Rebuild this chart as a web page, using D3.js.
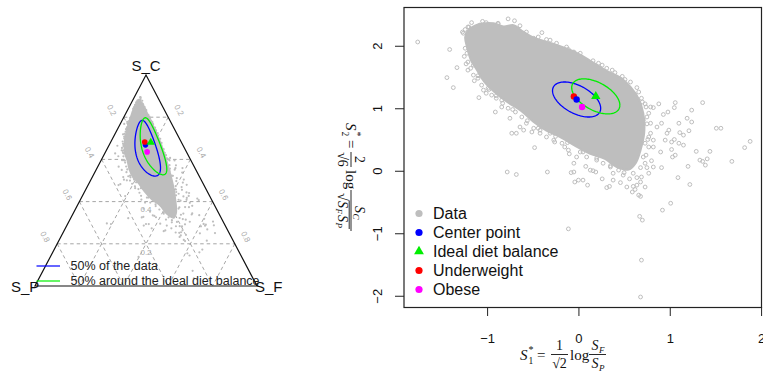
<!DOCTYPE html>
<html>
<head>
<meta charset="utf-8">
<script src="https://cdn.jsdelivr.net/npm/d3@7"></script>
<style>
  body { margin: 0; background: #fff; }
  svg { display: block; }
</style>
</head>
<body>
<svg id="chart" width="763" height="374"></svg>
<script>
// Observations in ilr coordinates:
//   z1 = 1/sqrt(2) * log(S_F / S_P),  z2 = 2/sqrt(6) * log(S_C / sqrt(S_F * S_P))
// Dense core of the observation cloud (outline of the fully covered region)
const cloudCore = [
  [-1.21, 2.24], [-1.10, 2.34], [-0.93, 2.36], [-0.82, 2.31], [-0.71, 2.33], [-0.62, 2.24],
  [-0.49, 2.13], [-0.27, 2.03], [-0.05, 1.91], [0.13, 1.76], [0.31, 1.60], [0.46, 1.49],
  [0.57, 1.34], [0.66, 1.15], [0.71, 0.92], [0.72, 0.60], [0.68, 0.33], [0.63, 0.13],
  [0.55, 0.02], [0.42, 0.06], [0.29, 0.19], [0.13, 0.27], [-0.04, 0.40], [-0.20, 0.54],
  [-0.35, 0.64], [-0.49, 0.78], [-0.63, 0.96], [-0.78, 1.10], [-0.92, 1.26], [-1.03, 1.42],
  [-1.11, 1.61], [-1.18, 1.78], [-1.22, 1.98], [-1.24, 2.14]
];

// Individual observations around and outside the core
const observations = [
  [-1.76, 2.06], [-1.41, 1.94], [-1.44, 1.49], [-1.37, 1.33], [-1.33, 1.65], [-1.09, 1.17],
  [-0.91, 0.94], [-1.14, 1.44], [-1.25, 1.83], [-1.23, 1.71], [-1.21, 1.61], [-1.15, 1.69],
  [-1.17, 2.08], [-1.21, 2.20], [-1.17, 2.37], [-1.04, 1.29], [-1.01, 1.24], [-0.84, 1.13],
  [-0.84, 1.02], [-0.75, 0.84], [-0.73, 0.60], [-0.68, 0.60], [-0.64, 0.70], [-0.60, 0.65],
  [-0.48, 0.37], [-0.51, 0.62], [-0.42, 0.60], [-0.31, 0.60], [-0.27, 0.49], [-0.15, 0.38],
  [-0.10, 0.27], [-0.05, 0.12], [-0.04, -0.18], [0.00, -0.15], [0.05, -0.15], [0.10, -0.23],
  [-0.08, -0.03], [-0.05, -0.02], [-0.78, -0.02], [-0.68, -0.06], [-0.34, -0.02], [-0.11, -0.93],
  [0.08, 0.07], [0.13, 0.01], [0.16, 0.00], [0.19, -0.02], [0.26, -0.13], [0.31, -0.27],
  [0.34, -0.25], [0.38, -0.04], [0.46, -0.19], [0.56, -0.13], [0.64, -0.11], [0.69, -0.10],
  [0.60, -0.25], [0.62, -0.30], [0.66, -0.39], [0.68, -0.41], [0.75, 0.05], [0.80, 0.16],
  [0.91, 0.05], [1.02, 0.34], [1.03, 0.22], [1.06, 0.25], [1.09, -0.11], [1.20, 0.07],
  [1.22, -0.22], [1.01, -0.52], [0.92, -0.63], [0.67, -0.73], [0.70, -0.79], [0.69, -1.43],
  [0.68, -2.02],
  [0.82, 1.01], [0.88, 1.07], [0.93, 0.90], [0.98, 0.94], [1.05, 1.01], [1.06, 1.09],
  [1.24, 0.97], [1.36, 1.09], [1.19, 0.84], [1.24, 0.78], [1.21, 0.64], [1.10, 0.76],
  [1.11, 0.61], [1.05, 0.50], [1.10, 0.44], [1.15, 0.41], [0.91, 0.76], [0.99, 0.65],
  [1.02, 0.46], [1.51, 0.68], [1.56, 0.68], [1.88, 0.47], [1.82, 0.37], [1.68, 0.15],
  [1.29, 0.31], [1.33, 0.17], [1.36, 0.15], [1.41, 0.19], [1.44, 0.31], [1.39, 0.09],
  [0.86, 0.70], [0.79, 0.60], [0.82, 0.49], [0.77, 0.38], [0.71, 0.81], [0.77, 0.92],
  [0.82, 0.38], [0.90, 0.30], [0.95, 0.49], [0.97, 0.60], [1.15, 0.57],
  [-0.77, 2.43], [-0.70, 2.40], [-0.40, 2.21], [-0.20, 1.93], [-0.11, 1.94], [-0.05, 1.90],
  [0.09, 1.74], [0.22, 1.72], [0.31, 1.64], [0.40, 1.57], [0.48, 1.51], [0.57, 1.42],
  [0.64, 1.33], [0.62, 1.21], [0.73, 1.07], [0.79, 1.02], [-0.49, 2.12], [-0.31, 2.09],
  [-1.27, 2.22], [-1.20, 2.30], [-1.05, 2.39], [-0.88, 2.36], [-1.18, 1.90], [-1.10, 1.52],
  [-0.98, 1.30], [-0.90, 1.20], [-0.72, 0.98], [-0.56, 0.80], [-0.44, 0.68], [-0.25, 0.55],
  [-0.12, 0.45], [0.05, 0.30], [0.20, 0.20], [0.35, 0.08], [0.50, -0.03], [0.68, 0.05],
  [0.74, 0.25], [0.76, 0.50], [0.75, 0.75], [0.70, 1.10],
  [-1.24, 2.26], [-1.26, 2.20], [-1.21, 2.30], [-1.08, 2.33], [-1.01, 2.37], [-0.88, 2.35],
  [-0.64, 2.32], [-0.57, 2.22], [-0.44, 2.14], [-0.35, 2.10], [-0.24, 2.04], [-0.13, 1.98],
  [0.02, 1.88], [0.16, 1.76], [0.26, 1.69], [0.37, 1.61], [0.51, 1.46], [0.66, 1.26],
  [0.69, 1.16], [0.74, 1.02], [0.75, 0.86], [0.79, 0.76], [0.77, 0.54], [0.73, 0.44],
  [0.71, 0.22], [0.73, 0.12], [0.60, -0.04], [0.49, -0.07], [0.44, 0.01], [0.35, 0.06],
  [0.27, 0.12], [0.20, 0.17], [0.09, 0.22], [0.02, 0.30], [-0.02, 0.22], [-0.11, 0.33],
  [-0.18, 0.44], [-0.26, 0.46], [-0.35, 0.54], [-0.42, 0.65], [-0.49, 0.68], [-0.57, 0.76],
  [-0.62, 0.86], [-0.69, 0.94], [-0.77, 1.00], [-0.83, 1.08], [-0.90, 1.16], [-0.95, 1.21],
  [-0.99, 1.32], [-1.06, 1.37], [-1.10, 1.48], [-1.15, 1.53], [-1.18, 1.64], [-1.21, 1.74],
  [-1.22, 1.88], [-1.24, 1.96], [0.38, -0.15], [0.53, -0.26], [0.59, -0.34], [0.64, -0.23],
  [0.77, -0.04], [0.82, 0.06], [0.68, -0.18], [0.73, -0.26]
];

// Reference points (ilr coordinates)
const centerPoint = [-0.02, 1.14];
const idealPoint = [0.19, 1.19];
const underweightPoint = [-0.05, 1.19];
const obesePoint = [0.04, 1.02];

// Spread of the data (ilr standard deviations and correlation)
const dataSd = [0.224, 0.238];
const dataRho = -0.5;
const scatterEllipseRadius = 1.177;   // sqrt of chi-square(2) median
const ternaryEllipseRadius = 2.08;

const xTicks = [-1, 0, 1, 2];
const yTicks = [-2, -1, 0, 1, 2];
const gridLevels = [0.2, 0.4, 0.6, 0.8];
const partNames = ["S_P", "S_F", "S_C"];
const legendLabels = ["Data", "Center point", "Ideal diet balance", "Underweight", "Obese"];
const legendColors = ["#bebebe", "#0000ff", "#00ee00", "#ff0000", "#ff00ff"];
const ternaryLegendLabels = ["50% of the data", "50% around the ideal diet balance"];

const COL = { gray: "#bebebe", blue: "#0000ff", green: "#00ee00", red: "#ff0000", magenta: "#ff00ff" };
const SANS = "Liberation Sans, Arial, sans-serif";
const SERIF = "Liberation Serif, DejaVu Serif, serif";

const svg = d3.select("#chart");

// ---------- helpers ----------
function ellipsePoints(center, radius) {
  const [sx, sy] = dataSd;
  const l21 = dataRho * sy, l22 = sy * Math.sqrt(1 - dataRho * dataRho);
  return d3.range(0, 361, 3).map(deg => {
    const t = deg * Math.PI / 180, u = radius * Math.cos(t), v = radius * Math.sin(t);
    return [center[0] + sx * u, center[1] + l21 * u + l22 * v];
  });
}
// inverse ilr -> composition (P, F, C)
function toComposition([z1, z2]) {
  const r2 = Math.SQRT2, r6 = Math.sqrt(6);
  const e = [Math.exp(-z1 / r2 - z2 / r6), Math.exp(z1 / r2 - z2 / r6), Math.exp(2 * z2 / r6)];
  const s = e[0] + e[1] + e[2];
  return e.map(v => v / s);
}

// ================= Right panel: ilr scatter =================
const box = { left: 404, right: 761.5, top: 7, bottom: 307 };
const x = d3.scaleLinear().domain([-1.91, 2.01]).range([box.left, 762]);
const y = d3.scaleLinear().domain([-2.18, 2.62]).range([box.bottom, box.top]);

const right = svg.append("g");
right.append("defs").append("clipPath").attr("id", "plotClip")
  .append("rect").attr("x", box.left).attr("y", box.top)
  .attr("width", box.right - box.left).attr("height", box.bottom - box.top);
const plot = right.append("g").attr("clip-path", "url(#plotClip)");

plot.append("path")
  .attr("d", d3.line().x(d => x(d[0])).y(d => y(d[1])).curve(d3.curveCatmullRomClosed)(cloudCore))
  .attr("fill", COL.gray).attr("stroke", COL.gray).attr("stroke-width", 2);

plot.selectAll("circle.obs").data(observations).join("circle")
  .attr("class", "obs")
  .attr("cx", d => x(d[0])).attr("cy", d => y(d[1])).attr("r", 1.9)
  .attr("fill", "none").attr("stroke", COL.gray).attr("stroke-width", 1);

const eLine = d3.line().x(d => x(d[0])).y(d => y(d[1]));
plot.append("path").attr("d", eLine(ellipsePoints(centerPoint, scatterEllipseRadius)))
  .attr("fill", "none").attr("stroke", COL.blue).attr("stroke-width", 1.3);
plot.append("path").attr("d", eLine(ellipsePoints(idealPoint, scatterEllipseRadius)))
  .attr("fill", "none").attr("stroke", COL.green).attr("stroke-width", 1.3);

function dot(g, p, color, r, sx, sy) {
  g.append("circle").attr("cx", sx(p[0])).attr("cy", sy(p[1])).attr("r", r).attr("fill", color);
}
function tri(g, p, color, s, sx, sy) {
  g.append("path").attr("d", d3.symbol(d3.symbolTriangle, s)())
    .attr("transform", `translate(${sx(p[0])},${sy(p[1])})`).attr("fill", color);
}
tri(plot, idealPoint, COL.green, 38, x, y);
dot(plot, underweightPoint, COL.red, 3.2, x, y);
dot(plot, centerPoint, COL.blue, 3.2, x, y);
dot(plot, obesePoint, COL.magenta, 3.2, x, y);

// legend
const leg = right.append("g");
legendLabels.forEach((lab, i) => {
  const ly = 213.5 + i * 19;
  if (i === 2) {
    leg.append("path").attr("d", d3.symbol(d3.symbolTriangle, 42)())
      .attr("transform", `translate(419,${ly})`).attr("fill", legendColors[i]);
  } else {
    leg.append("circle").attr("cx", 419).attr("cy", ly).attr("r", 3.6).attr("fill", legendColors[i]);
  }
  leg.append("text").attr("x", 433).attr("y", ly + 5.6).text(lab)
    .attr("font-family", SANS).attr("font-size", 16).attr("fill", "#111");
});

// axes
const axX = right.append("g").attr("transform", `translate(0,${box.bottom})`)
  .call(d3.axisBottom(x).tickValues(xTicks).tickSize(9).tickSizeOuter(0)
    .tickFormat(d => d < 0 ? "\u2212" + Math.abs(d) : d));
axX.select(".domain").remove();
axX.selectAll("line").attr("stroke", "#222");
axX.selectAll("text").attr("font-family", SANS).attr("font-size", 13).attr("fill", "#111").attr("dy", null).attr("y", 36);

const axY = right.append("g").attr("transform", `translate(${box.left},0)`)
  .call(d3.axisLeft(y).tickValues(yTicks).tickSize(9).tickSizeOuter(0)
    .tickFormat(d => d < 0 ? "\u2212" + Math.abs(d) : d));
axY.select(".domain").remove();
axY.selectAll("line").attr("stroke", "#222");
axY.selectAll("text").attr("font-family", SANS).attr("font-size", 13).attr("fill", "#111")
  .attr("x", null).attr("dy", null).attr("text-anchor", "middle")
  .attr("transform", "translate(-22,0) rotate(-90)");

right.append("rect").attr("x", box.left).attr("y", box.top + 0.5)
  .attr("width", box.right - box.left).attr("height", box.bottom - box.top)
  .attr("fill", "none").attr("stroke", "#222").attr("stroke-width", 1.2);

// ---- axis titles (math) ----
function mt(g, str, xx, yy, size, italic, anchor) {
  return g.append("text").attr("x", xx).attr("y", yy).text(str)
    .attr("font-family", SERIF).attr("font-size", size)
    .attr("font-style", italic ? "italic" : "normal")
    .attr("text-anchor", anchor || "start").attr("fill", "#111");
}
function bar(g, x1, x2, yy) {
  g.append("line").attr("x1", x1).attr("x2", x2).attr("y1", yy).attr("y2", yy)
    .attr("stroke", "#111").attr("stroke-width", 0.9);
}
// x title: S1* = 1/sqrt2 log(S_F/S_P)
const xt = right.append("g");
mt(xt, "S", 520, 360, 15, true);
mt(xt, "1", 528.5, 363.5, 9.5, false);
mt(xt, "*", 528.5, 353, 10, false);
mt(xt, "=", 537, 360, 15, false);
mt(xt, "1", 559.5, 350, 14, false, "middle");
bar(xt, 551, 568, 354.5);
mt(xt, "\u221A2", 559.5, 368, 14, false, "middle");
mt(xt, "log", 570, 360, 15, false);
mt(xt, "S", 591.5, 350, 14, true); mt(xt, "F", 599, 352.5, 9, true);
bar(xt, 589, 606, 354.5);
mt(xt, "S", 591.5, 368, 14, true); mt(xt, "P", 599, 370.5, 9, true);

// y title: S2* = 2/sqrt6 log(S_C / sqrt(S_F S_P)), reading downward
const yt = right.append("g").attr("transform", "translate(351,123) rotate(90)");
mt(yt, "S", 0, 5.5, 15, true);
mt(yt, "2", 8.5, 9, 9.5, false);
mt(yt, "*", 8.5, -2.5, 10, false);
mt(yt, "=", 17, 5.5, 15, false);
mt(yt, "2", 36.5, -4, 14, false, "middle");
bar(yt, 29, 44, 0);
mt(yt, "\u221A6", 36.5, 13, 14, false, "middle");
mt(yt, "log", 47, 5.5, 15, false);
mt(yt, "S", 83, -4, 14, true); mt(yt, "C", 90.5, -1.5, 9, true);
bar(yt, 67, 108, 0);
mt(yt, "\u221A", 70, 13, 14, false);
mt(yt, "S", 78, 13, 14, true); mt(yt, "F", 85.5, 15.5, 9, true);
mt(yt, "S", 92, 13, 14, true); mt(yt, "P", 99.5, 15.5, 9, true);
bar(yt, 77.5, 106, 1.8);

// ================= Left panel: ternary diagram =================
const V = { P: [35, 286], F: [257, 286], C: [146, 75] };
function tpos(comp) {   // comp = [P, F, C]
  return [comp[0] * V.P[0] + comp[1] * V.F[0] + comp[2] * V.C[0],
          comp[0] * V.P[1] + comp[1] * V.F[1] + comp[2] * V.C[1]];
}
const tx = z => tpos(toComposition(z))[0];
const ty = z => tpos(toComposition(z))[1];
const left = svg.append("g");

// dashed grid
const grid = left.append("g").attr("stroke", "#9c9c9c").attr("stroke-width", 0.9)
  .attr("stroke-dasharray", "3.5,3").attr("fill", "none");
gridLevels.forEach(v => {
  const segs = [
    [[1 - v, 0, v], [0, 1 - v, v]],   // constant S_C
    [[v, 0, 1 - v], [v, 1 - v, 0]],   // constant S_P
    [[0, v, 1 - v], [1 - v, v, 0]]    // constant S_F
  ];
  segs.forEach(([a, b]) => {
    const pa = tpos(a), pb = tpos(b);
    grid.append("line").attr("x1", pa[0]).attr("y1", pa[1]).attr("x2", pb[0]).attr("y2", pb[1]);
  });
});

// grid labels
const glab = left.append("g").attr("font-family", SANS).attr("font-size", 8).attr("fill", "#a8a8a8");
gridLevels.forEach(v => {
  const pl = tpos([v, 0, 1 - v]);
  glab.append("text").attr("text-anchor", "middle")
    .attr("transform", `translate(${pl[0] - 12},${pl[1] - 7}) rotate(62)`).attr("dy", "0.35em").text(v);
  const pr = tpos([0, v, 1 - v]);
  glab.append("text").attr("text-anchor", "middle")
    .attr("transform", `translate(${pr[0] + 11},${pr[1] - 7}) rotate(62)`).attr("dy", "0.35em").text(v);
  const pc = tpos([(1 - v) / 2, (1 - v) / 2, v]);
  glab.append("text").attr("text-anchor", "middle")
    .attr("x", pc[0]).attr("y", pc[1] + 8).attr("dy", "0.35em").text(v);
});

// observations
left.append("path")
  .attr("d", d3.line().x(tx).y(ty).curve(d3.curveCatmullRomClosed)(cloudCore))
  .attr("fill", COL.gray).attr("stroke", COL.gray).attr("stroke-width", 1.5);
left.selectAll("circle.tobs").data(observations).join("circle")
  .attr("class", "tobs").attr("cx", tx).attr("cy", ty).attr("r", 1.1).attr("fill", COL.gray);

// ellipses
const tLine = d3.line().x(tx).y(ty);
left.append("path").attr("d", tLine(ellipsePoints(centerPoint, ternaryEllipseRadius)))
  .attr("fill", "none").attr("stroke", COL.blue).attr("stroke-width", 1.3);
left.append("path").attr("d", tLine(ellipsePoints(idealPoint, ternaryEllipseRadius)))
  .attr("fill", "none").attr("stroke", COL.green).attr("stroke-width", 1.3);

const tp = p => tpos(toComposition(p));
[[centerPoint, COL.blue], [underweightPoint, COL.red], [obesePoint, COL.magenta]].forEach(([p, c]) => {
  const q = tp(p);
  left.append("circle").attr("cx", q[0]).attr("cy", q[1]).attr("r", 2.8).attr("fill", c);
});
{
  const q = tp(idealPoint);
  left.append("path").attr("d", d3.symbol(d3.symbolTriangle, 30)())
    .attr("transform", `translate(${q[0]},${q[1]})`).attr("fill", COL.green);
}

// triangle frame
left.append("path")
  .attr("d", `M${V.P[0]},${V.P[1]}L${V.F[0]},${V.F[1]}L${V.C[0]},${V.C[1]}Z`)
  .attr("fill", "none").attr("stroke", "#111").attr("stroke-width", 1.2);

// corner labels
const cl = left.append("g").attr("font-family", SANS).attr("font-size", 15).attr("fill", "#111");
cl.append("text").attr("x", V.C[0]).attr("y", 71).attr("text-anchor", "middle").text(partNames[2]);
cl.append("text").attr("x", 11).attr("y", 292).text(partNames[0]);
cl.append("text").attr("x", 255).attr("y", 292).text(partNames[1]);

// ternary legend
const tl = left.append("g");
ternaryLegendLabels.forEach((lab, i) => {
  const ly = 266 + i * 15;
  tl.append("line").attr("x1", 36.5).attr("x2", 60).attr("y1", ly).attr("y2", ly)
    .attr("stroke", i === 0 ? COL.blue : COL.green).attr("stroke-width", 1.2);
  tl.append("text").attr("x", 70.5).attr("y", ly + 4.3).text(lab)
    .attr("font-family", SANS).attr("font-size", 12.5).attr("fill", "#222");
});
</script>
</body>
</html>
